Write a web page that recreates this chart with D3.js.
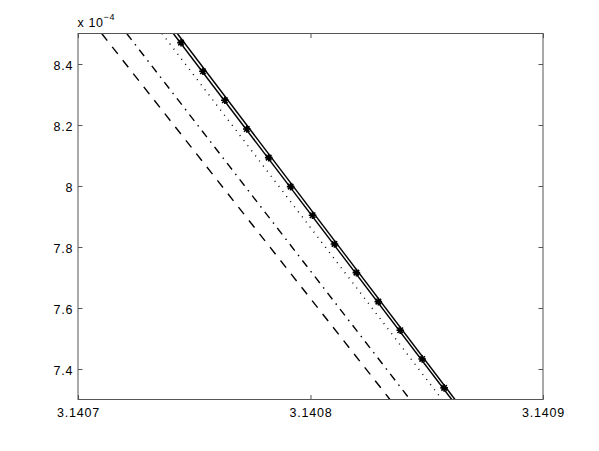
<!DOCTYPE html>
<html>
<head>
<meta charset="utf-8">
<script src="https://cdn.jsdelivr.net/npm/d3@7"></script>
<style>
  body { margin: 0; background: #fff; }
  svg { display: block; }
  text { font-family: "Liberation Sans", Arial, sans-serif; }
</style>
</head>
<body>
<svg id="chart" width="599" height="451"></svg>
<script>
// ---- data (y values in units of 1e-4) ----
const xTicks = [3.1407, 3.1408, 3.1409];
const xTickLabels = ["3.1407", "3.1408", "3.1409"];
const yTicks = [7.4, 7.6, 7.8, 8.0, 8.2, 8.4];
const yTickLabels = ["7.4", "7.6", "7.8", "8", "8.2", "8.4"];
const xDomain = [3.1407, 3.1409];
const yDomain = [7.3, 8.5];

const dashedX = [3.14071019, 3.14083419];
const dashedY = [8.5, 7.3];
const dashDotX = [3.14072095, 3.14084280];
const dashDotY = [8.5, 7.3];
const dottedX = [3.14073613, 3.14085656];
const dottedY = [8.5, 7.3];
const solidAX = [3.14074099, 3.14086073];
const solidAY = [8.5, 7.3];
const solidBX = [3.14074271, 3.14086215];
const solidBY = [8.5, 7.3];

const starX = [3.14074430, 3.14075373, 3.14076316, 3.14077259, 3.14078202, 3.14079145,
               3.14080088, 3.14081031, 3.14081974, 3.14082917, 3.14083860, 3.14084803, 3.14085746];
const starY = [8.470, 8.376, 8.281, 8.187, 8.093, 7.998, 7.904, 7.810, 7.716, 7.621, 7.527, 7.433, 7.338];

// ---- layout ----
const L = 78, R = 543, T = 33.5, B = 399.5;
const svg = d3.select("#chart");
const x = d3.scaleLinear().domain(xDomain).range([L, R]);
const y = d3.scaleLinear().domain(yDomain).range([B, T]);

svg.append("defs").append("clipPath").attr("id", "clip")
  .append("rect").attr("x", L).attr("y", T).attr("width", R - L).attr("height", B - T);

const plot = svg.append("g").attr("clip-path", "url(#clip)");
const line = d3.line().x(d => x(d[0])).y(d => y(d[1]));
const zip = (xs, ys) => xs.map((v, i) => [v, ys[i]]);

const series = [
  { xs: dashedX, ys: dashedY, dash: "9,8" },
  { xs: dashDotX, ys: dashDotY, dash: "8,5.5,1.5,5.5" },
  { xs: dottedX, ys: dottedY, dash: "1,5.4" },
  { xs: solidAX, ys: solidAY, dash: null },
  { xs: solidBX, ys: solidBY, dash: null }
];
series.forEach(s => {
  plot.append("path")
    .attr("d", line(zip(s.xs, s.ys)))
    .attr("fill", "none")
    .attr("stroke", "#000")
    .attr("stroke-width", 1.4)
    .attr("stroke-dasharray", s.dash);
});

// asterisk markers
const r = 3.8;
const star = `M${-r},0L${r},0M0,${-r}L0,${r}` +
  `M${-r*0.72},${-r*0.72}L${r*0.72},${r*0.72}M${-r*0.72},${r*0.72}L${r*0.72},${-r*0.72}`;
plot.selectAll("path.star").data(zip(starX, starY)).enter().append("path")
  .attr("class", "star")
  .attr("d", star)
  .attr("transform", d => `translate(${x(d[0])},${y(d[1])})`)
  .attr("stroke", "#000")
  .attr("stroke-width", 1.6)
  .attr("fill", "none");

// ---- axes ----
const axisColor = "#555";
const tickLen = 4.5;
function styleAxis(g) {
  g.select(".domain").remove();
  g.selectAll(".tick line").attr("stroke", axisColor);
  g.selectAll(".tick text").attr("fill", "#000").style("font-size", "12.5px")
    .style("letter-spacing", "0.8px")
    .style("font-family", "'Liberation Sans', Arial, sans-serif");
}
svg.append("g").attr("transform", `translate(0,${B})`)
  .call(d3.axisBottom(x).tickValues(xTicks).tickFormat((d, i) => xTickLabels[i])
    .tickSizeInner(-tickLen).tickSizeOuter(0).tickPadding(8.6))
  .call(styleAxis);
svg.append("g").attr("transform", `translate(0,${T})`)
  .call(d3.axisTop(x).tickValues(xTicks).tickFormat("")
    .tickSizeInner(-tickLen).tickSizeOuter(0))
  .call(styleAxis);
svg.append("g").attr("transform", `translate(${L},0)`)
  .call(d3.axisLeft(y).tickValues(yTicks).tickFormat((d, i) => yTickLabels[i])
    .tickSizeInner(-tickLen).tickSizeOuter(0).tickPadding(4.8))
  .call(styleAxis)
  .call(g => g.selectAll(".tick text").attr("dy", "0.44em"));
svg.append("g").attr("transform", `translate(${R},0)`)
  .call(d3.axisRight(y).tickValues(yTicks).tickFormat("")
    .tickSizeInner(-tickLen).tickSizeOuter(0))
  .call(styleAxis);

svg.append("rect").attr("x", L).attr("y", T).attr("width", R - L).attr("height", B - T)
  .attr("fill", "none").attr("stroke", axisColor).attr("stroke-width", 1);

// exponent label
const ex = svg.append("text").attr("x", L - 0.5).attr("y", 26.7)
  .style("font-size", "12.5px").style("letter-spacing", "0.6px").attr("fill", "#000");
ex.append("tspan").text("x 10");
ex.append("tspan").attr("dy", -7).style("font-size", "9px").text("−4");
</script>
</body>
</html>
